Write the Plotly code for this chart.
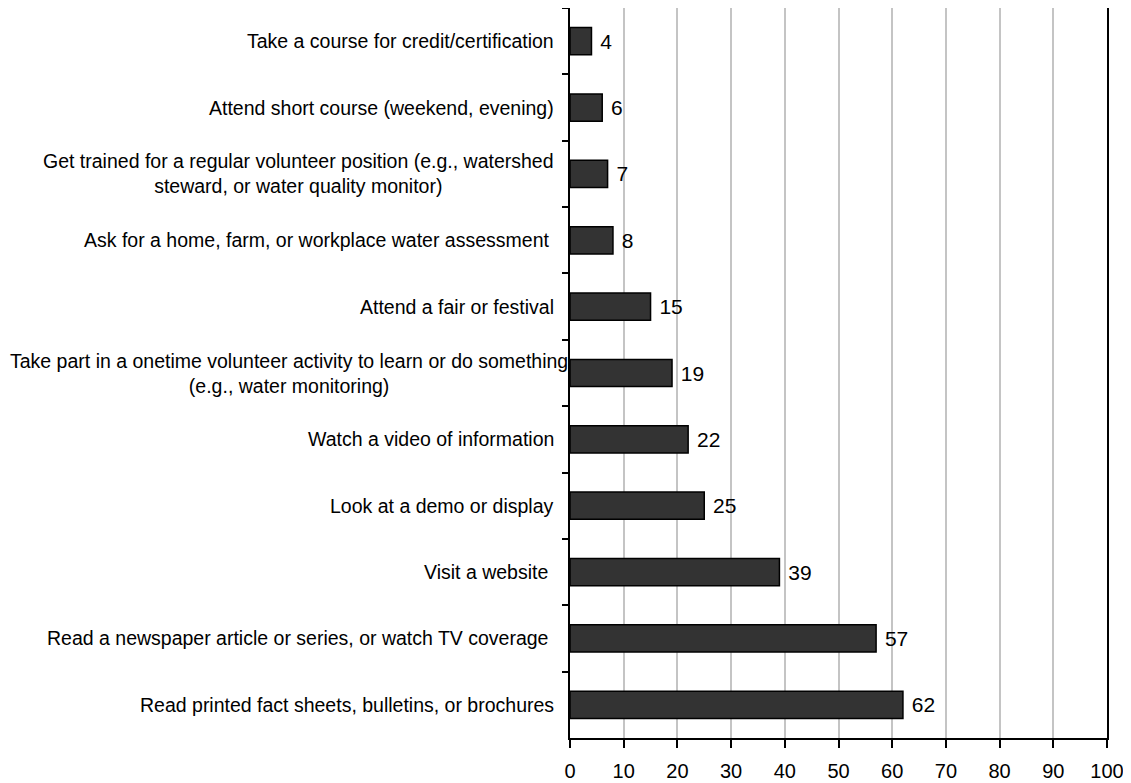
import plotly.graph_objects as go

# categories listed top to bottom, as they appear in the chart
activities = [
    "Take a course for credit/certification",
    "Attend short course (weekend, evening)",
    "Get trained for a regular volunteer position (e.g., watershed<br>steward, or water quality monitor)",
    "Ask for a home, farm, or workplace water assessment ",
    "Attend a fair or festival",
    "Take part in a onetime volunteer activity to learn or do something<br>(e.g., water monitoring)",
    "Watch a video of information",
    "Look at a demo or display",
    "Visit a website ",
    "Read a newspaper article or series, or watch TV coverage ",
    "Read printed fact sheets, bulletins, or brochures",
]
percent = [4, 6, 7, 8, 15, 19, 22, 25, 39, 57, 62]
x_ticks = [0, 10, 20, 30, 40, 50, 60, 70, 80, 90, 100]

keys = [f"c{i}" for i in range(len(activities))]
FONT = "Liberation Sans, Arial"

fig = go.Figure()
fig.add_trace(go.Bar(
    x=percent, y=keys, orientation="h",
    marker=dict(color="#333333", line=dict(color="black", width=1.5)),
    text=percent, texttemplate="\u00a0%{x}", textposition="outside",
    textfont=dict(size=21, color="black", family=FONT),
    cliponaxis=False,
))

# category labels as annotations so multi-line ones are centred
for k, lab in zip(keys, activities):
    long_one = lab.startswith("Take part")
    fig.add_annotation(
        x=0, xref="paper", y=k, yref="y", text=lab, showarrow=False,
        xanchor="right", align="center", xshift=0 if long_one else -14,
        font=dict(size=19.5, color="black", family=FONT),
    )

# page body has an 8px margin, so the figure is sized to fit inside it
fig.update_layout(
    width=1123, height=775,
    margin=dict(l=562, r=24, t=0, b=45),
    plot_bgcolor="white", paper_bgcolor="white",
    bargap=0.59, showlegend=False,
    font=dict(family=FONT, color="black"),
)
fig.update_xaxes(
    range=[0, 100], tickvals=x_ticks, ticks="outside", ticklen=8, tickwidth=2,
    tickcolor="black", showline=True, linecolor="black", linewidth=2, mirror=True,
    showgrid=True, gridcolor="#c4c4c4", gridwidth=1.5, zeroline=False,
    tickfont=dict(size=20), ticklabelstandoff=6, automargin=False,
)
fig.update_yaxes(
    categoryorder="array", categoryarray=keys, autorange="reversed",
    showticklabels=False, ticks="outside", tickson="boundaries", ticklen=6,
    tickwidth=2, tickcolor="black", showline=True, linecolor="black", linewidth=2,
    mirror=True, showgrid=False, zeroline=False, automargin=False,
)

fig.write_html("out.html")
